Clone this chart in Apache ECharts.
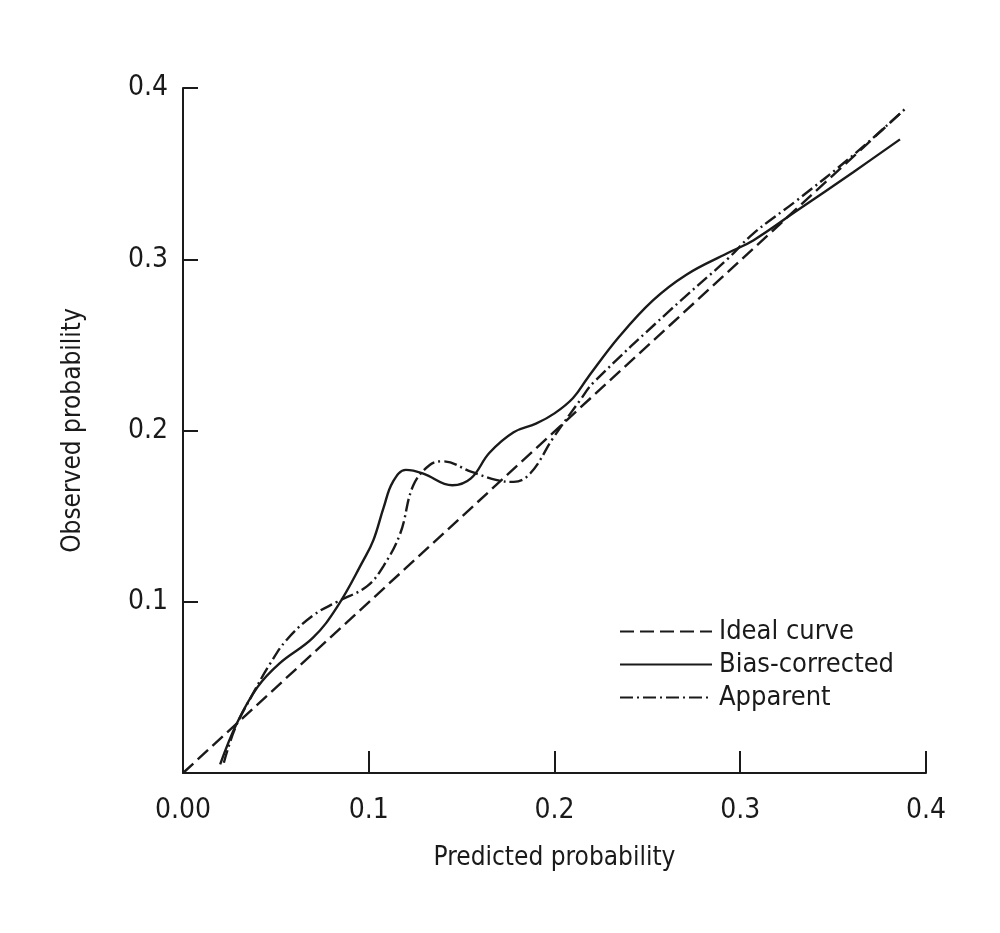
<!DOCTYPE html>
<html>
<head>
<meta charset="utf-8">
<script src="https://cdn.jsdelivr.net/npm/echarts@6/dist/echarts.min.js"></script>
<style>
  html, body { margin: 0; padding: 0; background: #fff; }
  #chart { width: 1000px; height: 933px; }
</style>
</head>
<body>
<div id="chart"></div>
<script>
// points: [predicted, observed]
var ideal = [[0, 0], [0.388, 0.387]];

var biasCorrected = [
    [0.020, 0.005], [0.029, 0.029], [0.040, 0.050], [0.052, 0.064], [0.070, 0.079],
    [0.083, 0.097], [0.097, 0.124], [0.1025, 0.136], [0.108, 0.155], [0.113, 0.170],
    [0.120, 0.177], [0.129, 0.175], [0.145, 0.168], [0.155, 0.172], [0.165, 0.187],
    [0.178, 0.199], [0.190, 0.204], [0.200, 0.210], [0.210, 0.219], [0.218, 0.231],
    [0.235, 0.255], [0.253, 0.276], [0.271, 0.291], [0.293, 0.3035], [0.307, 0.311],
    [0.330, 0.328], [0.361, 0.351], [0.386, 0.370]
];

var apparent = [
    [0.022, 0.006], [0.028, 0.026], [0.037, 0.045], [0.047, 0.064], [0.056, 0.078],
    [0.070, 0.092], [0.083, 0.100], [0.099, 0.109], [0.108, 0.121], [0.117, 0.140],
    [0.124, 0.168], [0.133, 0.180], [0.140, 0.182], [0.155, 0.176], [0.169, 0.171],
    [0.178, 0.170], [0.187, 0.175], [0.1995, 0.196], [0.214, 0.218], [0.221, 0.228],
    [0.262, 0.270], [0.293, 0.300], [0.307, 0.315], [0.330, 0.334], [0.361, 0.361],
    [0.390, 0.389]
];

var xTicks = ['0.00', '0.1', '0.2', '0.3', '0.4'];
var yTicks = ['', '0.1', '0.2', '0.3', '0.4'];

var font = "'Liberation Sans Narrow', 'DejaVu Sans Condensed', 'Roboto Condensed', sans-serif";
var ink = '#1a1a1a';

var chart = echarts.init(document.getElementById('chart'));

var option = {
    animation: false,
    backgroundColor: '#fff',
    textStyle: { fontFamily: font, color: ink },
    grid: { left: 183, right: 74, top: 88, bottom: 160 },
    legend: {
        orient: 'vertical',
        left: 614,
        top: 613,
        itemWidth: 92,
        itemHeight: 14,
        itemGap: 6,
        itemStyle: { opacity: 0 },
        textStyle: { fontFamily: font, fontSize: 27, color: ink, padding: [0, 0, 0, 2] },
        data: ['Ideal curve', 'Bias-corrected', 'Apparent']
    },
    xAxis: {
        type: 'value',
        min: 0,
        max: 0.4,
        interval: 0.1,
        name: 'Predicted probability',
        nameLocation: 'middle',
        nameGap: 72,
        nameTextStyle: { fontFamily: font, fontSize: 26, color: ink },
        axisLine: { lineStyle: { color: ink, width: 2 } },
        axisTick: { inside: true, length: 22, lineStyle: { color: ink, width: 2 } },
        axisLabel: {
            margin: 24, fontFamily: font, fontSize: 28, color: ink,
            formatter: function (v) { return xTicks[Math.round(v * 10)]; }
        },
        splitLine: { show: false }
    },
    yAxis: {
        type: 'value',
        min: 0,
        max: 0.4,
        interval: 0.1,
        name: 'Observed probability',
        nameLocation: 'middle',
        nameGap: 97,
        nameTextStyle: { fontFamily: font, fontSize: 26, color: ink },
        axisLine: { lineStyle: { color: ink, width: 2 } },
        axisTick: { inside: true, length: 15, lineStyle: { color: ink, width: 2 } },
        axisLabel: {
            margin: 15, fontFamily: font, fontSize: 28, color: ink,
            formatter: function (v) { return yTicks[Math.round(v * 10)]; }
        },
        splitLine: { show: false }
    },
    series: [
        {
            name: 'Ideal curve',
            type: 'line',
            showSymbol: false,
            symbol: 'none',
            itemStyle: { color: ink },
            lineStyle: { color: ink, width: 2.4, type: [14, 6] },
            data: ideal
        },
        {
            name: 'Bias-corrected',
            type: 'line',
            showSymbol: false,
            symbol: 'none',
            smooth: 0.4,
            itemStyle: { color: ink },
            lineStyle: { color: ink, width: 2.4, type: 'solid' },
            data: biasCorrected
        },
        {
            name: 'Apparent',
            type: 'line',
            showSymbol: false,
            symbol: 'none',
            smooth: 0.4,
            itemStyle: { color: ink },
            lineStyle: { color: ink, width: 2.4, type: [13, 4, 2, 4] },
            data: apparent
        }
    ]
};

chart.setOption(option);
</script>
</body>
</html>
